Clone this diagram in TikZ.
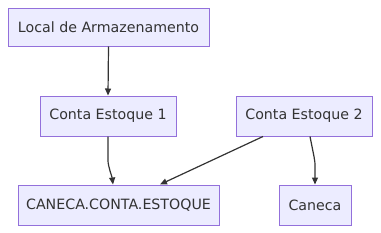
\documentclass[tikz,border=0pt]{standalone}
\usepackage{fontspec}
\setmainfont{DejaVu Sans}
\usetikzlibrary{arrows.meta}
\definecolor{nodefill}{HTML}{ECECFF}
\definecolor{nodeline}{HTML}{9370DB}
\definecolor{edge}{HTML}{333333}
\begin{document}
\begin{tikzpicture}[x=1pt,y=-1pt,
  box/.style={draw=nodeline,fill=nodefill,line width=1pt,inner sep=0pt,
    font=\fontsize{14.2}{17}\selectfont,text=edge},
  conn/.style={draw=edge,line width=1.2pt,-{Triangle[length=7pt,width=6pt]}}]
\useasboundingbox (0,0) rectangle (381,233);
\node[box,minimum width=201pt,minimum height=38pt] (la) at (108.5,27) {Local de Armazenamento};
\node[box,minimum width=136pt,minimum height=40pt] (c1) at (108,116) {Conta Estoque 1};
\node[box,minimum width=136pt,minimum height=40pt] (c2) at (304,116) {Conta Estoque 2};
\node[box,minimum width=201pt,minimum height=40pt] (ce) at (118.5,205) {CANECA.CONTA.ESTOQUE};
\node[box,minimum width=72pt,minimum height=40pt] (cn) at (315,205) {Caneca};
\path[conn] (la.south) -- (c1.north);
\path[conn] (c1.south) -- ++(0,24) .. controls +(0,6) and +(-1,-8) .. (ce.north -| 113,0);
\path[conn] (c2.south -| 263,0) -- (ce.north -| 160,0);
\path[conn] (c2.south -| 310,0) -- ++(4,20) .. controls +(1,4) .. (cn.north);
\end{tikzpicture}
\end{document}
